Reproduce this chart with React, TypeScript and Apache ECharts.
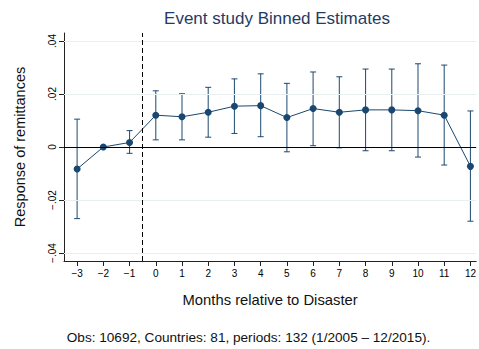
import React, { useEffect, useRef } from "react";
import * as echarts from "echarts";

const months = [-3, -2, -1, 0, 1, 2, 3, 4, 5, 6, 7, 8, 9, 10, 11, 12];
const estimates = [-0.0083, 0, 0.0017, 0.012, 0.0114, 0.0131, 0.0154, 0.0156, 0.0111, 0.0145, 0.0131, 0.014, 0.014, 0.0137, 0.012, -0.0073];
const upper = [0.0105, null, 0.0062, 0.0212, 0.0201, 0.0225, 0.0257, 0.0276, 0.024, 0.0283, 0.0265, 0.0294, 0.0294, 0.0314, 0.0309, 0.0136];
const lower = [-0.027, null, -0.0024, 0.0027, 0.0027, 0.0037, 0.0051, 0.0039, -0.0018, 0.0005, -0.0003, -0.0014, -0.0014, -0.0038, -0.0068, -0.028];
const yTicks = [-0.04, -0.02, 0, 0.02, 0.04];
const yTickLabels = ["\u2212.04", "\u2212.02", "0", ".02", ".04"];
const gridLineValues = [-0.04, -0.02, 0.02, 0.04];
const eventLine = -0.5;

const NAVY = "#1a476f";
const FONT = "Liberation Sans, Arial, Helvetica, sans-serif";

export default function App() {
  const ref = useRef<HTMLDivElement>(null);
  useEffect(() => {
    if (!ref.current) return;
    const chart = echarts.init(ref.current, null, { renderer: "svg" });
    const barData = months
      .map((m, i) => [m, lower[i], upper[i]])
      .filter((d) => d[1] !== null && d[2] !== null);
    chart.setOption({
      animation: false,
      backgroundColor: "#ffffff",
      textStyle: { fontFamily: FONT },
      title: {
        text: "Event study Binned Estimates",
        left: 272,
        top: 5,
        textAlign: "center",
        textStyle: { fontFamily: FONT, fontSize: 17, fontWeight: "normal", color: "#263a66" },
      },
      grid: { left: 64, right: 0, top: 33, bottom: 88 },
      xAxis: {
        type: "value",
        min: -3.5,
        max: 12.22,
        name: "Months relative to Disaster",
        nameLocation: "middle",
        nameGap: 31,
        nameTextStyle: { fontFamily: FONT, fontSize: 14.8, color: "#111" },
        axisLine: { show: true, onZero: false, lineStyle: { color: "#222", width: 1 } },
        axisTick: { show: true, length: 5, lineStyle: { color: "#222" }, customValues: months },
        axisLabel: {
          customValues: months,
          fontFamily: FONT,
          fontSize: 10,
          color: "#000",
          margin: 7,
          formatter: (v: number) => (v < 0 ? "\u2212" + Math.abs(v) : String(v)),
        },
        splitLine: { show: false },
      },
      yAxis: {
        type: "value",
        min: -0.043,
        max: 0.043,
        name: "Response of remittances",
        nameLocation: "middle",
        nameRotate: 90,
        nameGap: 37,
        nameTextStyle: { fontFamily: FONT, fontSize: 14.5, color: "#111" },
        axisLine: { show: true, onZero: false, lineStyle: { color: "#222", width: 1 } },
        axisTick: { show: true, length: 5, lineStyle: { color: "#222" }, customValues: yTicks },
        axisLabel: {
          customValues: yTicks,
          rotate: 90,
          fontFamily: FONT,
          fontSize: 10,
          color: "#000",
          margin: 7,
          formatter: (v: number) => {
            const idx = yTicks.findIndex((t) => Math.abs(t - v) < 1e-9);
            return idx >= 0 ? yTickLabels[idx] : "";
          },
        },
        splitLine: { show: false },
      },
      series: [
        {
          type: "line",
          data: [],
          silent: true,
          markLine: {
            silent: true,
            symbol: "none",
            label: { show: false },
            data: [
              ...gridLineValues.map((v) => ({ yAxis: v, lineStyle: { color: "#e7eff1", width: 1.2, type: "solid" } })),
              { yAxis: 0, lineStyle: { color: "#000", width: 1, type: "solid" } },
              { xAxis: eventLine, lineStyle: { color: "#000", width: 1, type: [5, 3] } },
            ],
          },
        },
        {
          type: "custom",
          data: barData,
          silent: true,
          renderItem: (params: any, api: any) => {
            const x = api.value(0);
            const top = api.coord([x, api.value(2)]);
            const bot = api.coord([x, api.value(1)]);
            const cap = 3;
            const style = { stroke: NAVY, lineWidth: 1.1, opacity: 0.9 };
            return {
              type: "group",
              children: [
                { type: "line", shape: { x1: top[0], y1: top[1], x2: bot[0], y2: bot[1] }, style },
                { type: "line", shape: { x1: top[0] - cap, y1: top[1], x2: top[0] + cap, y2: top[1] }, style },
                { type: "line", shape: { x1: bot[0] - cap, y1: bot[1], x2: bot[0] + cap, y2: bot[1] }, style },
              ],
            };
          },
        },
        {
          type: "line",
          data: months.map((m, i) => [m, estimates[i]]),
          symbol: "circle",
          symbolSize: 7,
          showSymbol: true,
          lineStyle: { color: NAVY, width: 1 },
          itemStyle: { color: NAVY },
          silent: true,
        },
      ],
      graphic: [
        {
          type: "text",
          x: 248.5,
          y: 337,
          style: {
            text: "Obs: 10692, Countries: 81, periods: 132 (1/2005 \u2013 12/2015).",
            font: "13.6px " + FONT,
            fill: "#111",
            textAlign: "center",
            textVerticalAlign: "middle",
          },
        },
      ],
    });
    return () => chart.dispose();
  }, []);
  return <div ref={ref} style={{ width: 479, height: 349, position: "absolute", left: 0, top: 0 }} />;
}
